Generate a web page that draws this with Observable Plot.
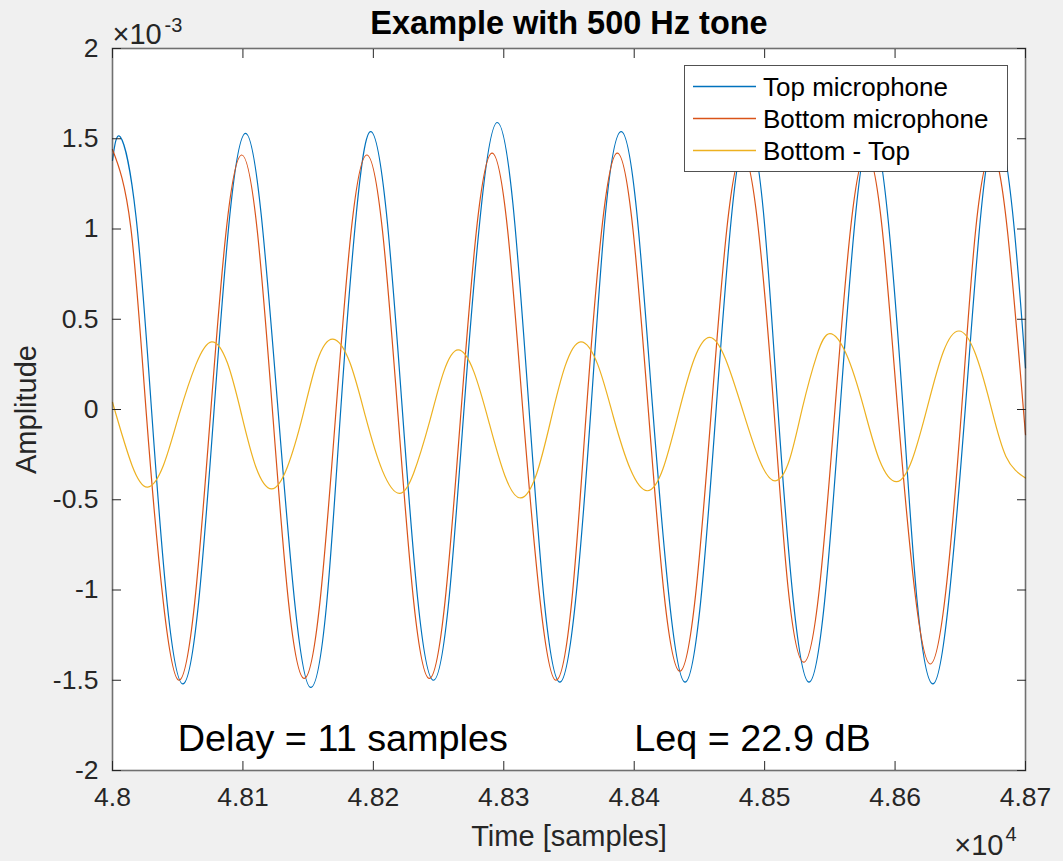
<!DOCTYPE html>
<html>
<head>
<meta charset="utf-8">
<script src="https://cdn.jsdelivr.net/npm/d3@7"></script>
<script src="https://cdn.jsdelivr.net/npm/@observablehq/plot@0.6"></script>
<style>
  html, body { margin: 0; padding: 0; background: #f0f0f0; }
  #chart { width: 1063px; height: 861px; }
</style>
</head>
<body>
<div id="chart"></div>
<script>
// ---- Data (amplitudes in units of 1e-3, time in samples) ----
const seriesNames = ["Top microphone", "Bottom microphone", "Bottom - Top"];
const seriesColors = ["#0072BD", "#D95319", "#EDB120"];

const topX = [48000,48006,48018,48030,48042,48054,48066,48078,48090,48102,48114,48127,48140,48152,48164,48175,48187,48198,48210,48222,48234,48246,48258,48270,48283,48295,48307,48319,48331,48343,48355,48367,48378,48390,48402,48414,48427,48439,48451,48463,48475,48487,48499,48510,48522,48534,48546,48558,48570,48582,48594,48606,48617,48629,48641,48654,48666,48678,48690,48700];
const topY = [1.38,1.51,1.07,-0.01,-1.08,-1.52,-1.07,0.01,1.08,1.53,1.08,-0.01,-1.09,-1.54,-1.09,0.00,1.09,1.54,1.09,0.02,-1.05,-1.50,-1.05,0.05,1.14,1.59,1.14,0.04,-1.06,-1.51,-1.06,0.02,1.09,1.54,1.09,0.02,-1.06,-1.51,-1.06,0.02,1.10,1.55,1.10,0.02,-1.06,-1.51,-1.06,0.02,1.10,1.55,1.10,0.02,-1.07,-1.52,-1.07,0.02,1.10,1.55,1.10,0.23];

const bottomX = [48000,48014,48026,48039,48051,48063,48075,48087,48099,48111,48123,48135,48147,48159,48171,48183,48195,48207,48219,48231,48243,48255,48267,48279,48291,48303,48315,48328,48340,48352,48363,48375,48387,48399,48411,48423,48435,48447,48459,48471,48483,48495,48507,48518,48530,48542,48554,48566,48578,48590,48602,48615,48627,48639,48651,48662,48674,48686,48700];
const bottomY = [1.44,1.01,-0.03,-1.07,-1.50,-1.07,-0.04,0.98,1.41,0.99,-0.04,-1.07,-1.49,-1.07,-0.04,0.99,1.41,0.99,-0.04,-1.07,-1.49,-1.06,-0.03,0.99,1.42,0.99,-0.04,-1.07,-1.50,-1.07,-0.04,0.99,1.42,1.00,-0.02,-1.03,-1.45,-1.03,-0.02,1.00,1.42,1.01,0.01,-0.99,-1.40,-0.99,0.01,1.01,1.42,1.01,0.00,-1.00,-1.41,-1.00,0.00,1.01,1.42,1.00,-0.14];

const diffX = [48000,48015,48027,48039,48051,48064,48076,48088,48099,48110,48122,48134,48146,48157,48169,48182,48194,48207,48220,48231,48243,48254,48265,48277,48289,48301,48313,48325,48336,48347,48359,48372,48384,48397,48410,48422,48434,48446,48458,48470,48483,48496,48508,48519,48529,48540,48550,48563,48576,48588,48601,48613,48625,48637,48649,48661,48673,48685,48700];
const diffY = [0.04,-0.31,-0.43,-0.31,-0.03,0.25,0.375,0.26,-0.03,-0.32,-0.44,-0.32,-0.03,0.27,0.39,0.26,-0.04,-0.34,-0.465,-0.35,-0.07,0.21,0.33,0.21,-0.08,-0.37,-0.49,-0.36,-0.06,0.24,0.375,0.25,-0.04,-0.33,-0.45,-0.33,-0.02,0.28,0.40,0.28,0.00,-0.28,-0.395,-0.28,0.01,0.30,0.42,0.30,0.01,-0.28,-0.40,-0.28,0.02,0.32,0.435,0.32,0.03,-0.26,-0.38];

const xTicks = [48000,48100,48200,48300,48400,48500,48600,48700];
const xTickLabels = ["4.8","4.81","4.82","4.83","4.84","4.85","4.86","4.87"];
const yTicks = [-2,-1.5,-1,-0.5,0,0.5,1,1.5,2];
const yTickLabels = ["-2","-1.5","-1","-0.5","0","0.5","1","1.5","2"];

const annotations = [
  {x: 48050, y: -1.89, label: "Delay = 11 samples"},
  {x: 48400, y: -1.89, label: "Leq = 22.9 dB"}
];

const titleText = "Example with 500 Hz tone";
const xLabel = "Time [samples]";
const yLabel = "Amplitude";

// ---- Build table ----
const seriesData = [
  {name: seriesNames[0], xs: topX, ys: topY},
  {name: seriesNames[1], xs: bottomX, ys: bottomY},
  {name: seriesNames[2], xs: diffX, ys: diffY}
];
const rows = seriesData.flatMap(s => s.xs.map((x, i) => ({series: s.name, x, y: s.ys[i]})));

const FONT = "'Liberation Sans', Arial, Helvetica, sans-serif";
const AX = "#262626";

const chart = Plot.plot({
  width: 1063,
  height: 861,
  marginLeft: 112,
  marginRight: 38,
  marginTop: 48,
  marginBottom: 91,
  style: {background: "#f0f0f0", fontFamily: FONT, color: AX, overflow: "visible"},
  x: {domain: [48000, 48700]},
  y: {domain: [-2, 2]},
  color: {domain: seriesNames, range: seriesColors},
  marks: [
    Plot.frame({fill: "white", stroke: null}),
    Plot.line(rows, {x: "x", y: "y", z: "series", stroke: "series", strokeWidth: 1.2, curve: "natural"}),
    Plot.text(annotations, {x: "x", y: "y", text: "label", textAnchor: "start", lineAnchor: "bottom", fontSize: 37.8, fill: "black"}),
    // inward ticks on all four sides
    Plot.axisX({anchor: "bottom", ticks: xTicks, tickSize: -9, tickFormat: () => "", label: null, stroke: AX}),
    Plot.axisX({anchor: "top", ticks: xTicks, tickSize: -9, tickFormat: () => "", label: null, stroke: AX}),
    Plot.axisY({anchor: "left", ticks: yTicks, tickSize: -9, tickFormat: () => "", label: null, stroke: AX}),
    Plot.axisY({anchor: "right", ticks: yTicks, tickSize: -9, tickFormat: () => "", label: null, stroke: AX}),
    // tick labels
    Plot.axisX({anchor: "bottom", ticks: xTicks, tickSize: 0, tickPadding: 17, label: null, fontSize: 26.5, fill: AX,
      tickFormat: d => xTickLabels[xTicks.indexOf(d)]}),
    Plot.axisY({anchor: "left", ticks: yTicks, tickSize: 0, tickPadding: 14, label: null, fontSize: 26.5, fill: AX,
      tickFormat: d => yTickLabels[yTicks.indexOf(d)]}),
    Plot.frame({stroke: AX, strokeOpacity: 0.65, strokeWidth: 1.6}),
    // title, axis labels, exponents
    Plot.text([titleText], {frameAnchor: "top", lineAnchor: "bottom", dy: -15, fontSize: 32.5, fontWeight: "bold", fill: "black"}),
    Plot.text([xLabel], {frameAnchor: "bottom", lineAnchor: "bottom", dy: 75, fontSize: 29, fill: AX}),
    Plot.text([yLabel], {frameAnchor: "left", textAnchor: "middle", rotate: -90, dx: -86, fontSize: 29, fill: AX}),
    Plot.text(["\u00d710"], {frameAnchor: "top-left", textAnchor: "start", lineAnchor: "bottom", dx: 0, dy: -5, fontSize: 29, fill: AX}),
    Plot.text(["-3"], {frameAnchor: "top-left", textAnchor: "start", lineAnchor: "bottom", dx: 52, dy: -17, fontSize: 20, fill: AX}),
    Plot.text(["\u00d710"], {frameAnchor: "bottom-right", textAnchor: "end", lineAnchor: "bottom", dx: -22, dy: 84, fontSize: 29, fill: AX}),
    Plot.text(["4"], {frameAnchor: "bottom-right", textAnchor: "start", lineAnchor: "bottom", dx: -20, dy: 70, fontSize: 20, fill: AX})
  ]
});

document.getElementById("chart").appendChild(chart);

// ---- Legend (boxed, inside the axes, top-right) ----
const svg = d3.select(chart);
const lg = svg.append("g").attr("font-family", FONT).attr("text-anchor", "start");
lg.append("rect").attr("x", 684.5).attr("y", 65.5).attr("width", 323).attr("height", 106)
  .attr("fill", "white").attr("stroke", AX).attr("stroke-opacity", 0.8).attr("stroke-width", 1);
seriesNames.forEach((name, i) => {
  const cy = 86.5 + i * 32;
  lg.append("line").attr("x1", 693).attr("x2", 756).attr("y1", cy).attr("y2", cy)
    .attr("stroke", seriesColors[i]).attr("stroke-width", 1.3);
  lg.append("text").attr("x", 763).attr("y", cy + 9).attr("font-size", 26).attr("fill", "black")
    .attr("text-anchor", "start").text(name);
});
</script>
</body>
</html>
